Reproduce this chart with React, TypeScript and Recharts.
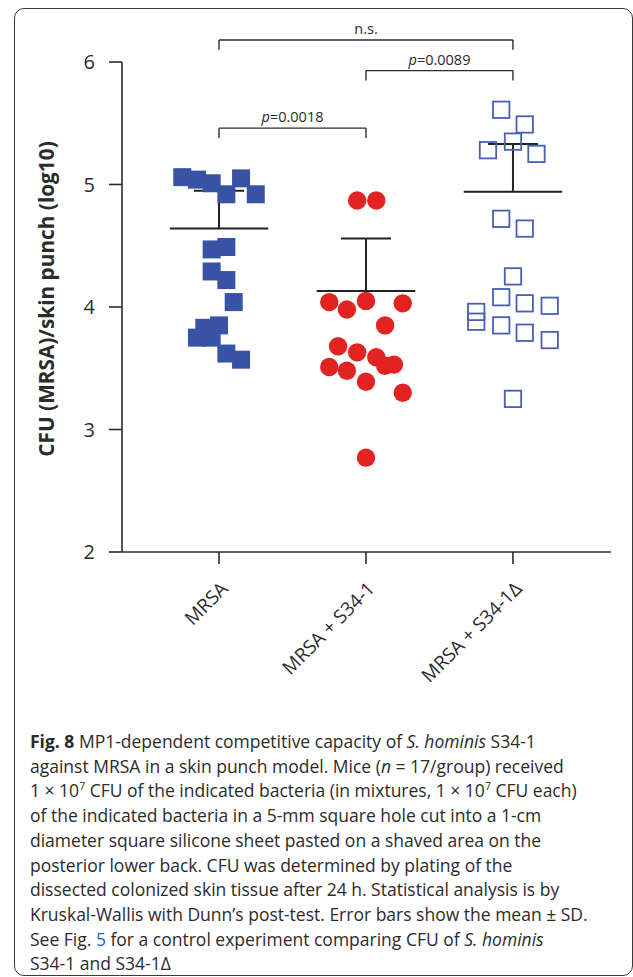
import React from 'react';
import { ComposedChart, Scatter, XAxis, YAxis, ReferenceLine } from 'recharts';

const groups = ['MRSA', 'MRSA + S34-1', 'MRSA + S34-1Δ'];
const yTicks = [2, 3, 4, 5, 6];

// log10 CFU per mouse; jitter is the horizontal spread inside each group
const mrsaValues = [5.06, 5.04, 5.01, 4.92, 5.05, 4.92, 4.47, 4.49, 4.29, 4.22, 4.04, 3.83, 3.85, 3.75, 3.75, 3.62, 3.57];
const mrsaJitter = [-0.25, -0.15, -0.05, 0.05, 0.15, 0.25, -0.05, 0.05, -0.05, 0.05, 0.1, -0.1, 0, -0.15, -0.05, 0.05, 0.15];

const s34Values = [4.87, 4.87, 4.04, 3.98, 4.05, 4.03, 3.85, 3.68, 3.63, 3.59, 3.52, 3.53, 3.51, 3.48, 3.39, 3.3, 2.77];
const s34Jitter = [-0.06, 0.07, -0.25, -0.13, 0, 0.25, 0.13, -0.19, -0.06, 0.07, 0.13, 0.19, -0.25, -0.13, 0, 0.25, 0];

const deltaValues = [5.61, 5.49, 5.35, 5.28, 5.25, 4.72, 4.64, 4.25, 4.08, 4.03, 4.01, 3.96, 3.88, 3.85, 3.79, 3.73, 3.25];
const deltaJitter = [-0.08, 0.08, 0, -0.17, 0.16, -0.08, 0.08, 0, -0.08, 0.08, 0.25, -0.25, -0.25, -0.08, 0.08, 0.25, 0];

const groupMeans = [4.64, 4.13, 4.94];
const groupSd = [0.31, 0.43, 0.39];

const bracketFrom = [0, 1, 0];
const bracketTo = [2, 2, 1];
const bracketY = [6.18, 5.93, 5.46];
const bracketLabels = ['n.s.', 'p=0.0089', 'p=0.0018'];

const toPoints = (group: number, values: number[], jitter: number[]) =>
  values.map((v, i) => ({ x: group + jitter[i], y: v }));

const mrsaPoints = toPoints(0, mrsaValues, mrsaJitter);
const s34Points = toPoints(1, s34Values, s34Jitter);
const deltaPoints = toPoints(2, deltaValues, deltaJitter);

const INK = '#2b2b2b';
const FONT = '"Open Sans", "DejaVu Sans", sans-serif';

const filledSquare = (p: any) => (
  <rect x={p.cx - 9} y={p.cy - 9} width={18} height={18} fill="#3853a4" />
);
const redDot = (p: any) => <circle cx={p.cx} cy={p.cy} r={9.2} fill="#e22322" />;
const openSquare = (p: any) => (
  <rect x={p.cx - 8.2} y={p.cy - 8.2} width={16.4} height={16.4} fill="none" stroke="#4760b0" strokeWidth={1.8} />
);

const renderXTick = (props: any) => {
  const { x, y, payload } = props;
  return (
    <g transform={`translate(${x},${y})`}>
      <text
        x={10}
        y={24}
        textAnchor="end"
        transform="rotate(-45, 10, 24)"
        fill={INK}
        fontSize={19}
        fontFamily={FONT}
      >
        {groups[payload.value]}
      </text>
    </g>
  );
};

const bracketLabel = (text: string) => (props: any) => {
  const vb = props.viewBox || {};
  const cx = vb.x + vb.width / 2;
  const italic = text.startsWith('p=');
  return (
    <text x={cx} y={vb.y - 6} textAnchor="middle" fill={INK} fontSize={14.5} fontFamily={FONT}>
      {italic ? (
        <>
          <tspan fontStyle="italic">p</tspan>
          {text.slice(1)}
        </>
      ) : (
        text
      )}
    </text>
  );
};

const yLabel = () => (
  <text
    x={46}
    y={299}
    transform="rotate(-90, 46, 299)"
    textAnchor="middle"
    dominantBaseline="central"
    fill={INK}
    fontSize={20.8}
    fontWeight="bold"
    fontFamily={FONT}
  >
    CFU (MRSA)/skin punch (log10)
  </text>
);

const sup = { fontSize: '0.6em', position: 'relative' as const, top: '-0.75em', lineHeight: 0 };

export default function App() {
  const line = { stroke: INK, strokeWidth: 1.6 };
  return (
    <div
      style={{
        position: 'absolute',
        left: 0,
        top: 0,
        width: 633,
        height: 977,
        overflow: 'hidden',
        background: '#fff',
      }}
    >
      <div
        style={{
          position: 'absolute',
          left: 14,
          top: 8,
          width: 619,
          height: 968,
          border: '1.6px solid #3a3a3a',
          borderRadius: 10,
          boxSizing: 'border-box',
        }}
      />
      <div style={{ position: 'absolute', left: 0, top: 0 }}>
        <ComposedChart width={633} height={720} margin={{ top: 62, right: 22, bottom: 18, left: 0 }}>
          <XAxis
            type="number"
            dataKey="x"
            domain={[-0.66, 2.667]}
            ticks={[0, 1, 2]}
            interval={0}
            allowDataOverflow
            height={150}
            tickSize={12}
            tickMargin={2}
            axisLine={line}
            tickLine={line}
            tick={renderXTick}
          />
          <YAxis
            type="number"
            dataKey="y"
            domain={[2, 6]}
            ticks={yTicks}
            interval={0}
            allowDataOverflow
            width={122}
            tickSize={13}
            tickMargin={14}
            axisLine={line}
            tickLine={line}
            tick={{ fill: INK, fontSize: 20, fontFamily: FONT }}
            label={yLabel}
          />

          {groupMeans.map((m, i) => (
            <ReferenceLine
              key={`mean-${i}`}
              segment={[{ x: i - 0.335, y: m }, { x: i + 0.335, y: m }]}
              stroke="#222"
              strokeWidth={2}
              ifOverflow="visible"
            />
          ))}
          {groupMeans.map((m, i) => (
            <ReferenceLine
              key={`sd-${i}`}
              segment={[{ x: i, y: m }, { x: i, y: m + groupSd[i] }]}
              stroke="#222"
              strokeWidth={2}
              ifOverflow="visible"
            />
          ))}
          {groupMeans.map((m, i) => (
            <ReferenceLine
              key={`cap-${i}`}
              segment={[{ x: i - 0.17, y: m + groupSd[i] }, { x: i + 0.17, y: m + groupSd[i] }]}
              stroke="#222"
              strokeWidth={2}
              ifOverflow="visible"
            />
          ))}

          {bracketY.map((by, i) => (
            <ReferenceLine
              key={`br-${i}`}
              segment={[{ x: bracketFrom[i], y: by }, { x: bracketTo[i], y: by }]}
              stroke={INK}
              strokeWidth={1.4}
              ifOverflow="visible"
              label={bracketLabel(bracketLabels[i])}
            />
          ))}
          {bracketY.map((by, i) => (
            <ReferenceLine
              key={`brl-${i}`}
              segment={[{ x: bracketFrom[i], y: by }, { x: bracketFrom[i], y: by - 0.08 }]}
              stroke={INK}
              strokeWidth={1.4}
              ifOverflow="visible"
            />
          ))}
          {bracketY.map((by, i) => (
            <ReferenceLine
              key={`brr-${i}`}
              segment={[{ x: bracketTo[i], y: by }, { x: bracketTo[i], y: by - 0.08 }]}
              stroke={INK}
              strokeWidth={1.4}
              ifOverflow="visible"
            />
          ))}

          <Scatter data={mrsaPoints} dataKey="y" shape={filledSquare} isAnimationActive={false} />
          <Scatter data={s34Points} dataKey="y" shape={redDot} isAnimationActive={false} />
          <Scatter data={deltaPoints} dataKey="y" shape={openSquare} isAnimationActive={false} />
        </ComposedChart>
      </div>
      <div
        style={{
          position: 'absolute',
          left: 30,
          top: 729,
          fontFamily: FONT,
          fontSize: 17.5,
          lineHeight: '24.7px',
          color: INK,
          whiteSpace: 'nowrap',
        }}
      >
        <b>Fig. 8</b> MP1-dependent competitive capacity of <i>S. hominis</i> S34-1
        <br />
        against MRSA in a skin punch model. Mice (<i>n</i> = 17/group) received
        <br />
        1 × 10<span style={sup}>7</span> CFU of the indicated bacteria (in mixtures, 1 × 10<span style={sup}>7</span>{' '}
        CFU each)
        <br />
        of the indicated bacteria in a 5-mm square hole cut into a 1-cm
        <br />
        diameter square silicone sheet pasted on a shaved area on the
        <br />
        posterior lower back. CFU was determined by plating of the
        <br />
        dissected colonized skin tissue after 24 h. Statistical analysis is by
        <br />
        Kruskal-Wallis with Dunn’s post-test. Error bars show the mean ± SD.
        <br />
        See Fig. <span style={{ color: '#2f5fd6' }}>5</span> for a control experiment comparing CFU of{' '}
        <i>S. hominis</i>
        <br />
        S34-1 and S34-1Δ
      </div>
    </div>
  );
}
